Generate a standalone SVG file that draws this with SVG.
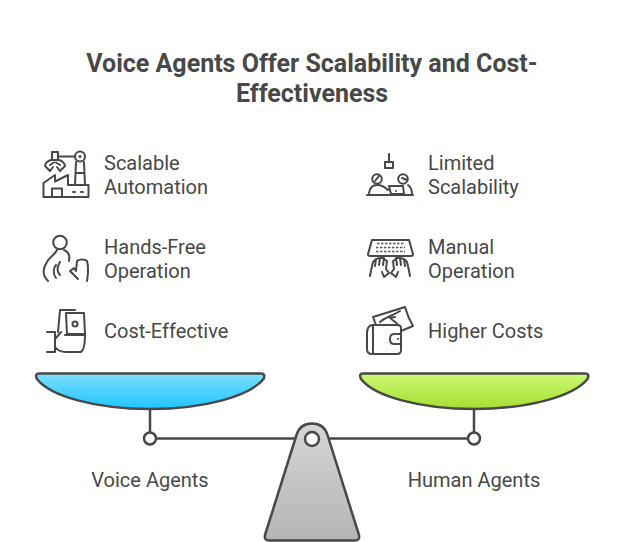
<svg xmlns="http://www.w3.org/2000/svg" width="624" height="542" viewBox="0 0 624 542">
<style>
text{font-family:Roboto,"Liberation Sans",sans-serif;fill:#484848}
.t{font-size:25px;font-weight:700;text-anchor:middle}
.l{font-size:20px}
.c{font-size:20px;text-anchor:middle}
.i{fill:none;stroke:#484848;stroke-width:2;stroke-linecap:round;stroke-linejoin:round}
.d{fill:none;stroke:#585858;stroke-width:1.500;stroke-dasharray:2.500 1.500}
.s{stroke:#484848;stroke-width:2.500;stroke-linejoin:round}
.k{fill:none;stroke:#484848;stroke-width:2.500}
.o{fill:#fff;stroke:#484848;stroke-width:2.500}
</style>
<defs>
<linearGradient id="gb" x1="0" y1="0" x2="0" y2="1"><stop offset="0" stop-color="#7ddfff"/><stop offset="1" stop-color="#1ec5ff"/></linearGradient>
<linearGradient id="gg" x1="0" y1="0" x2="0" y2="1"><stop offset="0" stop-color="#ccf975"/><stop offset="1" stop-color="#a6de2f"/></linearGradient>
<linearGradient id="gf" x1="0" y1="0" x2="0" y2="1"><stop offset="0" stop-color="#d6d6d6"/><stop offset="1" stop-color="#b4b4b4"/></linearGradient>
</defs>
<g id="title"><text class="t" x="312" y="72">Voice Agents Offer Scalability and Cost-</text><text class="t" x="312" y="102">Effectiveness</text></g>
<g id="connectors">
<path class="k" d="M150 408V432M156 438.500H300M324 438.500H468M474 408V432"/>
</g>
<g id="node-voice-pan"><path class="s" fill="url(#gb)" d="M39 373.500H261Q266 373.500 263.500 379C250 396 205 409 150 409C95 409 50 396 37 379Q34.500 373.500 39 373.500Z"/><circle class="o" cx="150" cy="438.500" r="6"/><text class="c" x="150" y="487">Voice Agents</text></g>
<g id="node-human-pan"><path class="s" fill="url(#gg)" d="M363 373.500H585Q590 373.500 587.500 379C574 396 529 409 474 409C419 409 374 396 361 379Q358.500 373.500 363 373.500Z"/><circle class="o" cx="474" cy="438.500" r="6"/><text class="c" x="474" y="487">Human Agents</text></g>
<g id="node-fulcrum"><path class="s" fill="url(#gf)" d="M296.500 435C299 427 305 423.500 312 423.500C319 423.500 325 427 327.500 435L359 535Q360 540.500 355 540.500H269Q264 540.500 265 535Z"/><circle class="o" cx="312" cy="439" r="7"/></g>
<g id="node-scalable-automation">
<path class="i" d="M43.500 197V183L55 175V181.500L68 175V185H88.500V197ZM52 197V188.500H62V197M73 192H75M81 192H83"/>
<path class="i" d="M52 152H58V160H52ZM58 156.500H75M51 160C47 161 45 164 45 166L50 171L53 167M59 160C63 161 65 164 65 166L60 171L57 167M50 165L54 162.500M60 165L56 162.500M76 162L75 185M84 162L85 185M76 173H84"/>
<circle class="i" cx="80" cy="156.500" r="5"/><circle cx="80" cy="156.500" r="1.500" fill="#484848"/>
<text class="l" x="104" y="170">Scalable</text><text class="l" x="104" y="194">Automation</text></g>
<g id="node-hands-free">
<circle class="i" cx="60" cy="242.500" r="6.800"/>
<path class="i" d="M57 250C54 256 49 257 47 262C43 268 42 275 48 281M64 250C69 252 70 256 69 261M60 262C57 267 57 272 60 275M56 265C53 268 53 274 56 278M70 271L78 279M70 271L74 268L76 271L77 261C79 259 85 259 87 261C89 268 88 275 87 281"/>
<text class="l" x="104" y="254">Hands-Free</text><text class="l" x="104" y="278">Operation</text></g>
<g id="node-cost-effective">
<path class="i" d="M47 332H55M47 352H55M55 332V352M56 338L61 332M55 347C58 351 62 352 66 352H81C84 350 85 345 85 335H65M75 310H60L58 332M66 313H84L85 334H67Z"/>
<circle class="i" cx="75" cy="324" r="2.500"/>
<text class="l" x="104" y="338">Cost-Effective</text></g>
<g id="node-limited-scalability">
<path class="i" d="M389 154V162M385 162H393V168H385ZM367 195H413"/>
<circle class="i" cx="377" cy="179" r="4.800"/><circle class="i" cx="403" cy="179" r="4.800"/>
<path class="i" d="M369 193C370 187 373 185 377 185C381 185 385 187 388 190M375 181L379 176M402 178L407 180M408 185C411 187 412 190 412 194M389 186H403L404 194H391Z"/>
<circle cx="396" cy="191" r="1" fill="#484848"/>
<text class="l" x="428" y="170">Limited</text><text class="l" x="428" y="194">Scalability</text></g>
<g id="node-manual-operation">
<path class="i" d="M372 240H409L413 254C413 256 412 256 411 256H370C369 256 368 256 368 254Z"/>
<path class="d" d="M377 243.500H404M376 247.500H405M376 251.500H405"/>
<path class="i" d="M370 276C371 270 372 266 373 262M373 262L376 259L375 266M376 259L380 258L379 265M380 258L384 258L383 265M384 259L387 261L386 269L389 273L384 277L382 272M410 276C409 270 408 266 407 262M407 262L404 259L405 266M404 259L400 258L401 265M400 258L396 258L397 265M396 259L393 261L394 269L391 273L396 277L398 272"/>
<text class="l" x="428" y="254">Manual</text><text class="l" x="428" y="278">Operation</text></g>
<g id="node-higher-costs">
<path class="i" d="M372 325C368 326 367 329 367 333V349C367 352 369 354 372 354H397C399 354 401 353 401 350V328C401 326 399 325 397 325ZM373 325V354M401 334H394C391 334 390 336 390 339C390 342 391 344 394 344H401"/>
<circle cx="398" cy="339" r="1" fill="#484848"/>
<path class="i" d="M376 325L373 317L405 307C407 314 410 321 413 326L401 331M380 322C384 318 392 316 400 311M390 318L395 317M390 325H398C397 321 391 321 391 318"/>
<text class="l" x="428" y="338">Higher Costs</text></g>
</svg>
